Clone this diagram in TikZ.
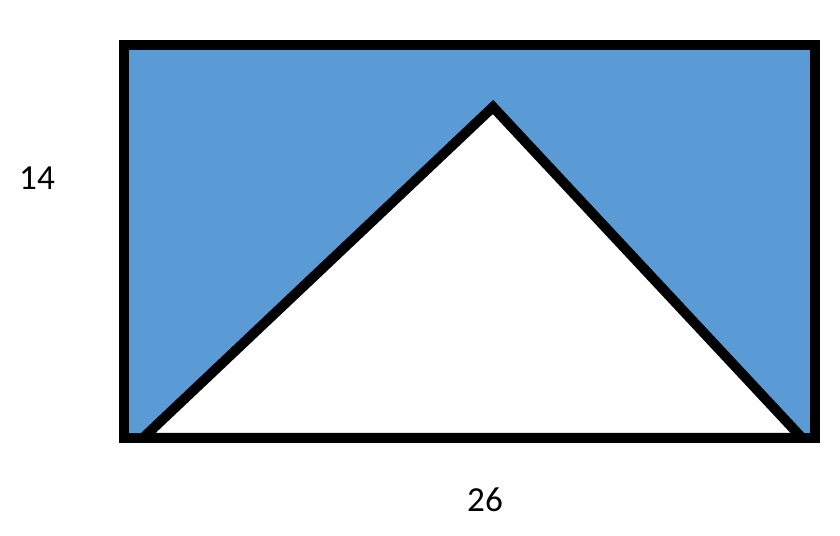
\documentclass[tikz,border=0pt]{standalone}
\usepackage{fontspec}
\setmainfont{Carlito}
\definecolor{areablue}{RGB}{91,155,213}
\begin{document}
\begin{tikzpicture}[edge/.style={line width=0.25cm,line join=miter},
    dimlabel/.style={font=\fontsize{25}{30}\selectfont}]
      \useasboundingbox (0,0) rectangle (21,13.4);
      \draw
        (3.1,12.275) coordinate (tl)
        (20.375,12.275) coordinate (tr)
        (20.375,2.45) coordinate (br)
        (3.1,2.45) coordinate (bl)
        (12.325,10.725) coordinate (apex)
        (3.575,2.45) coordinate (left)
        (20.05,2.45) coordinate (right);
      \fill[areablue] (tl) -- (tr) -- (br) -- (bl) -- cycle;
      \draw[edge,fill=white] (left) -- (apex) -- (right) -- cycle;
      \draw[edge] (tl) -- (tr) -- (br) -- (bl) -- cycle;
      \draw
        (0.925,8.95) node[dimlabel] (height){14}
        (12.125,0.9) node[dimlabel] (width){26};
    \end{tikzpicture}
\end{document}
